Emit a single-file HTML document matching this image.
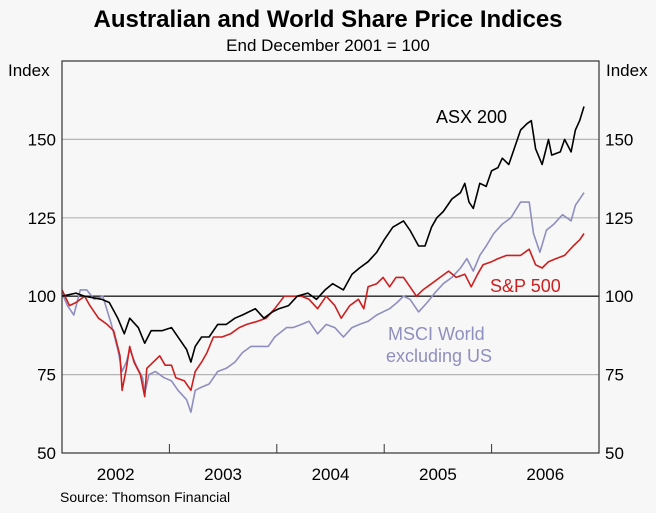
<!DOCTYPE html>
<html><head><meta charset="utf-8"><style>
html,body{margin:0;padding:0;background:#f7f7f7;}
svg text{font-family:"Liberation Sans",Arial,sans-serif;}
</style></head><body>
<svg id="chart" width="656" height="508" xmlns="http://www.w3.org/2000/svg">
<rect x="0" y="0" width="656" height="508" fill="#f7f7f7"/>
<text x="328" y="27" text-anchor="middle" font-size="24" font-weight="bold">Australian and World Share Price Indices</text>
<text x="328" y="51" text-anchor="middle" font-size="17">End December 2001 = 100</text>
<text x="8" y="76" font-size="17">Index</text>
<text x="606" y="76" font-size="17">Index</text>
<g id="grid"></g>
<g id="series"></g>
<rect x="62" y="61" width="537" height="392" fill="none" stroke="#333" stroke-width="1.2"/>
<g id="labels"></g>
<text x="60" y="502" font-size="14">Source: Thomson Financial</text>
</svg>
<script>
const yTicks=[50,75,100,125,150];
const years=["2002","2003","2004","2005","2006"];
const asxT=[0,0.13,0.21,0.37,0.44,0.52,0.58,0.63,0.71,0.77,0.83,0.93,1.02,1.10,1.16,1.20,1.24,1.30,1.37,1.45,1.53,1.61,1.68,1.80,1.88,1.96,2.02,2.11,2.19,2.29,2.37,2.45,2.52,2.62,2.70,2.77,2.85,2.93,3.00,3.08,3.18,3.24,3.32,3.38,3.44,3.49,3.55,3.63,3.71,3.75,3.79,3.83,3.89,3.95,4.00,4.06,4.10,4.16,4.21,4.27,4.33,4.37,4.41,4.47,4.53,4.56,4.64,4.68,4.74,4.78,4.82,4.86];
const asxV=[100,101,100,99,98,93,88,93,90,85,89,89,90,86,83,79,84,87,87,91,91,93,94,96,93,95,96,97,100,101,99,102,104,102,107,109,111,114,118,122,124,121,116,116,122,125,127,131,133,136,130,128,136,135,140,141,144,142,147,153,155,156,147,142,150,145,146,150,146,153,156,160.5];
const spT=[0,0.07,0.13,0.21,0.26,0.34,0.42,0.48,0.54,0.56,0.60,0.63,0.67,0.73,0.77,0.79,0.85,0.91,0.96,1.02,1.06,1.14,1.20,1.24,1.30,1.35,1.41,1.49,1.57,1.65,1.72,1.82,1.90,1.98,2.07,2.15,2.23,2.30,2.38,2.46,2.54,2.60,2.68,2.76,2.81,2.85,2.93,2.99,3.05,3.11,3.18,3.24,3.30,3.36,3.44,3.52,3.60,3.67,3.75,3.81,3.87,3.92,4.00,4.06,4.14,4.21,4.27,4.35,4.41,4.47,4.53,4.60,4.68,4.76,4.82,4.86];
const spV=[102,97,98,100,97,93,91,89,81,70,77,84,79,75,68,77,79,81,78,78,74,73,70,76,79,82,87,87,88,90,91,92,93,96,100,100,100,99,96,100,97,93,97,99,96,103,104,106,103,106,106,103,100,102,104,106,108,106,107,103,107,110,111,112,113,113,113,115,110,109,111,112,113,116,118,120];
const msT=[0,0.05,0.11,0.17,0.23,0.30,0.38,0.46,0.52,0.56,0.60,0.63,0.69,0.75,0.77,0.81,0.87,0.95,1.02,1.08,1.16,1.20,1.24,1.30,1.37,1.45,1.53,1.61,1.68,1.76,1.84,1.92,1.98,2.09,2.15,2.23,2.30,2.38,2.46,2.54,2.62,2.70,2.77,2.85,2.93,3.05,3.12,3.18,3.24,3.32,3.40,3.47,3.55,3.63,3.71,3.77,3.83,3.89,3.95,4.02,4.10,4.18,4.27,4.35,4.39,4.45,4.51,4.58,4.66,4.74,4.78,4.86];
const msV=[101,97,94,102,102,99,100,91,83,76,79,83,78,74,69,75,76,74,73,70,67,63,70,71,72,76,77,79,82,84,84,84,87,90,90,91,92,88,91,90,87,90,91,92,94,96,98,100,99,95,98,101,104,106,109,112,108,113,116,120,123,125,130,130,120,114,121,123,126,124,129,133];
const L=62,R=599,T=61,B=453;
const x=t=>L+t/5*(R-L);
const y=v=>B-(v-50)/125*(B-T);
const NS="http://www.w3.org/2000/svg";
const grid=document.getElementById('grid'),lab=document.getElementById('labels'),ser=document.getElementById('series');
yTicks.forEach(v=>{
  if(v>50){const ln=document.createElementNS(NS,'line');
  ln.setAttribute('x1',L);ln.setAttribute('x2',R);ln.setAttribute('y1',y(v));ln.setAttribute('y2',y(v));
  ln.setAttribute('stroke',v===100?'#222':'#b5b5b5');ln.setAttribute('stroke-width',v===100?1.3:1.2);
  
  
  grid.appendChild(ln);}
  [[L-6,'end','left'],[R+6,'start','right']].forEach(([px,anc,side])=>{
    const tx=document.createElementNS(NS,'text');
    tx.setAttribute('x',px);tx.setAttribute('y',y(v)+6);tx.setAttribute('text-anchor',anc);tx.setAttribute('font-size','17');
    tx.textContent=v;
    
    
    lab.appendChild(tx);
  });
});
years.forEach((yr,i)=>{
  if(i>0){const tk=document.createElementNS(NS,'line');
  tk.setAttribute('x1',x(i));tk.setAttribute('x2',x(i));tk.setAttribute('y1',B-9);tk.setAttribute('y2',B);tk.setAttribute('stroke','#333');
  
  
  lab.appendChild(tk);}
  const tx=document.createElementNS(NS,'text');
  tx.setAttribute('x',x(i+0.5));tx.setAttribute('y',480);tx.setAttribute('text-anchor','middle');tx.setAttribute('font-size','17');
  tx.textContent=yr;
  
  
  lab.appendChild(tx);
});
function line(ts,vs,col,name){
  const p=document.createElementNS(NS,'polyline');
  p.setAttribute('points',ts.map((t,i)=>x(t).toFixed(1)+','+y(vs[i]).toFixed(1)).join(' '));
  p.setAttribute('fill','none');p.setAttribute('stroke',col);p.setAttribute('stroke-width','1.6');p.setAttribute('stroke-linejoin','round');
  
  
  ser.appendChild(p);
}
line(msT,msV,'#8f8fbf','msci-world-line');
line(spT,spV,'#cc1f1f','sp500-line');
line(asxT,asxV,'#000','asx200-line');
function lbl(txt,px,py,col,name){
  const t=document.createElementNS(NS,'text');
  t.setAttribute('x',px);t.setAttribute('y',py);t.setAttribute('font-size','18');t.setAttribute('fill',col);
  t.textContent=txt;
  
  
  lab.appendChild(t);
}
lbl('ASX 200',436,123,'#000','asx200-label');
lbl('S&P 500',490,292,'#cc1f1f','sp500-label');
lbl('MSCI World',388,340,'#8f8fbf','msci-label-line1');
lbl('excluding US',386,362,'#8f8fbf','msci-label-line2');
</script>
</body></html>
